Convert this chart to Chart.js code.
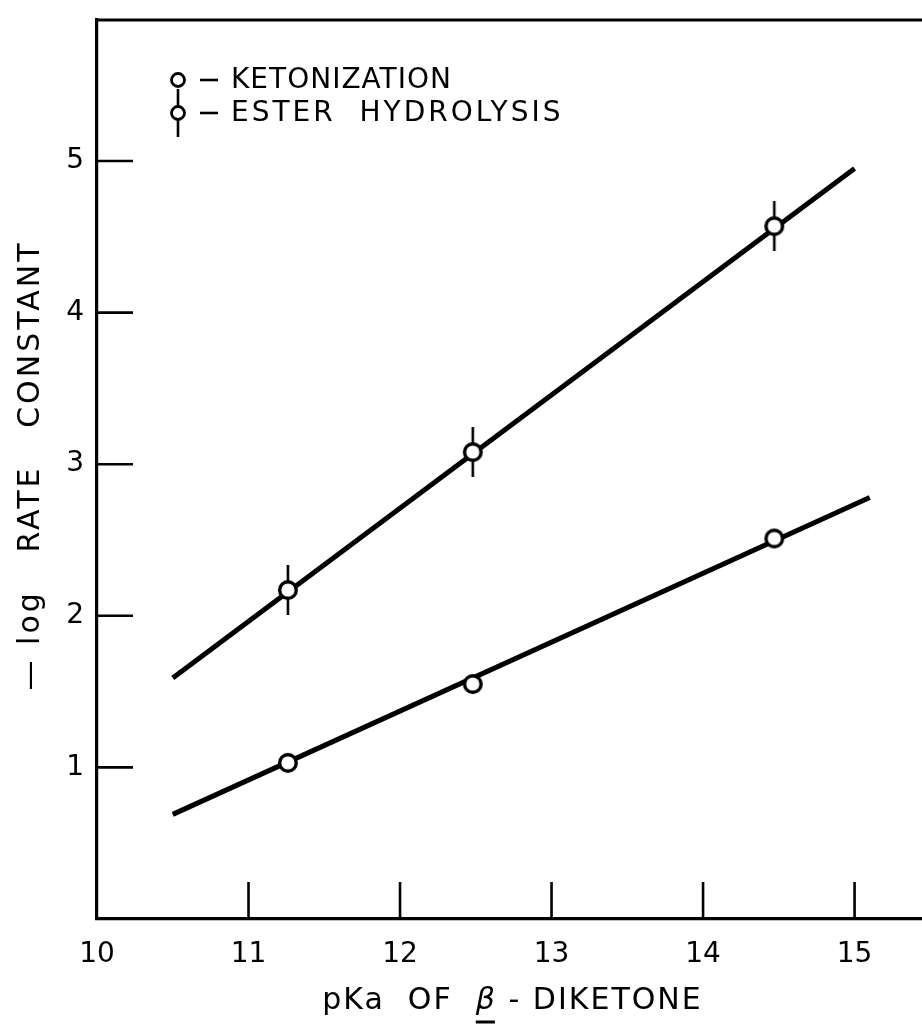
<!DOCTYPE html>
<html>
<head>
<meta charset="utf-8">
<script src="https://cdn.jsdelivr.net/npm/chart.js@4.4.1/dist/chart.umd.min.js"></script>
<style>
  html, body { margin: 0; padding: 0; background: #fff; }
  #wrap { width: 922px; height: 1025px; }
</style>
</head>
<body>
<div id="wrap"><canvas id="c" width="922" height="1025"></canvas></div>
<script>
// pKa of the beta-diketones and the measured -log rate constants
const pKa = [11.26, 12.48, 14.47];
const ketonization = [1.03, 1.55, 2.51];
const esterHydrolysis = [2.17, 3.08, 4.57];

// end points of the two fitted straight lines
const ketoFitX = [10.5, 15.1];
const ketoFitY = [0.69, 2.78];
const esterFitX = [10.5, 15.0];
const esterFitY = [1.59, 4.95];

// axis ticks and texts
const xTicks = [10, 11, 12, 13, 14, 15];
const yTicks = [1, 2, 3, 4, 5];
const legendLabels = ['KETONIZATION', 'ESTER  HYDROLYSIS'];
const xTitleParts = ['pKa  OF  ', 'β', ' - DIKETONE'];
const yTitle = '\u2014 log   RATE   CONSTANT';

const FONT = '"DejaVu Sans", "Liberation Sans", sans-serif';

// open circle marker, optionally crossed by a short vertical bar
function makeMarker(r, lw, barHalf, barWidth) {
  const w = 2 * Math.ceil(r + lw);
  const h = barHalf ? 2 * Math.ceil(barHalf) : w;
  const c = document.createElement('canvas');
  c.width = w; c.height = h;
  const g = c.getContext('2d');
  g.strokeStyle = '#000';
  if (barHalf) {
    g.lineWidth = barWidth;
    g.beginPath(); g.moveTo(w / 2, 0); g.lineTo(w / 2, h); g.stroke();
  }
  g.beginPath();
  g.arc(w / 2, h / 2, r, 0, Math.PI * 2);
  g.fillStyle = '#fff'; g.fill();
  g.lineWidth = lw; g.stroke();
  return c;
}

const ketoMarker = makeMarker(8.3, 3.4, 0, 0);
const esterMarker = makeMarker(8.3, 3.4, 25, 2.6);
const ketoLegendMarker = makeMarker(6.5, 2.8, 0, 0);
const esterLegendMarker = makeMarker(6.5, 2.8, 24, 2.6);

const toPoints = (xs, ys) => xs.map((x, i) => ({ x: x, y: ys[i] }));

// keep the plot frame exactly where the layout padding puts it
const noLabelPadding = s => {
  s.paddingTop = 0; s.paddingBottom = 0; s.paddingLeft = 0; s.paddingRight = 0;
};

// frame, inward ticks, legend and axis titles
const decorations = {
  id: 'decorations',
  afterDraw(chart) {
    const { ctx, chartArea: a, scales: { x, y } } = chart;
    ctx.save();
    ctx.strokeStyle = '#000';
    ctx.fillStyle = '#000';

    // top edge of the frame
    ctx.lineWidth = 3.2;
    ctx.beginPath(); ctx.moveTo(a.left - 1.6, a.top); ctx.lineTo(a.right, a.top); ctx.stroke();

    // inward tick marks
    ctx.lineWidth = 2.6;
    xTicks.forEach(v => {
      if (v === x.min) return;
      const px = x.getPixelForValue(v);
      ctx.beginPath(); ctx.moveTo(px, a.bottom); ctx.lineTo(px, a.bottom - 37); ctx.stroke();
    });
    yTicks.forEach(v => {
      const py = y.getPixelForValue(v);
      ctx.beginPath(); ctx.moveTo(a.left, py); ctx.lineTo(a.left + 36, py); ctx.stroke();
    });

    // legend
    ctx.font = '28px ' + FONT;
    ctx.textBaseline = 'middle';
    ctx.textAlign = 'left';
    const rows = [
      { marker: ketoLegendMarker, y: a.top + 60, spacing: '1px' },
      { marker: esterLegendMarker, y: a.top + 93, spacing: '3px' }
    ];
    rows.forEach((row, i) => {
      const m = row.marker;
      ctx.drawImage(m, 178 - m.width / 2, row.y - m.height / 2);
      ctx.lineWidth = 2.6;
      ctx.beginPath(); ctx.moveTo(200, row.y); ctx.lineTo(218, row.y); ctx.stroke();
      ctx.letterSpacing = row.spacing;
      ctx.fillText(legendLabels[i], 231, row.y + 1);
    });

    // x axis title with underlined beta
    ctx.font = '30px ' + FONT;
    ctx.letterSpacing = '2px';
    const widths = xTitleParts.map(t => ctx.measureText(t).width);
    const total = widths.reduce((s, w) => s + w, 0);
    let cx = (a.left + a.right) / 2 - total / 2 + 3;
    const ty = 1001;
    xTitleParts.forEach((t, i) => {
      if (t === 'β') {
        ctx.font = 'italic 30px ' + FONT;
        ctx.fillText(t, cx, ty);
        ctx.lineWidth = 3;
        ctx.beginPath(); ctx.moveTo(cx, ty + 21); ctx.lineTo(cx + widths[i] - 2, ty + 21); ctx.stroke();
        ctx.font = '30px ' + FONT;
      } else {
        ctx.fillText(t, cx, ty);
      }
      cx += widths[i];
    });

    // y axis title
    ctx.translate(31, (a.top + a.bottom) / 2 - 4);
    ctx.rotate(-Math.PI / 2);
    ctx.textAlign = 'center';
    ctx.font = '30px ' + FONT;
    ctx.letterSpacing = '3px';
    ctx.fillText(yTitle, 0, 0);
    ctx.restore();
  }
};

new Chart(document.getElementById('c'), {
  type: 'scatter',
  data: {
    datasets: [
      { label: 'ester fit', data: toPoints(esterFitX, esterFitY), showLine: true,
        borderColor: '#000', borderWidth: 5, pointRadius: 0, order: 3 },
      { label: 'keto fit', data: toPoints(ketoFitX, ketoFitY), showLine: true,
        borderColor: '#000', borderWidth: 5, pointRadius: 0, order: 3 },
      { label: legendLabels[0], data: toPoints(pKa, ketonization),
        pointStyle: ketoMarker, order: 1 },
      { label: legendLabels[1], data: toPoints(pKa, esterHydrolysis),
        pointStyle: esterMarker, order: 1 }
    ]
  },
  options: {
    responsive: false,
    animation: false,
    devicePixelRatio: 1,
    layout: { autoPadding: false, padding: { top: 20, left: 0, right: 0, bottom: 0 } },
    plugins: { legend: { display: false }, tooltip: { enabled: false } },
    scales: {
      x: {
        type: 'linear', min: 10, max: 15.445,
        afterBuildTicks: s => { s.ticks = xTicks.map(v => ({ value: v })); },
        afterFit: s => { s.height = 106; noLabelPadding(s); },
        grid: { display: false, drawTicks: false },
        border: { display: true, color: '#000', width: 3.2 },
        ticks: { color: '#000', font: { family: FONT, size: 28 }, padding: 19,
                 maxRotation: 0, autoSkip: false, callback: v => String(v) }
      },
      y: {
        type: 'linear', min: 0, max: 5.93,
        afterBuildTicks: s => { s.ticks = yTicks.map(v => ({ value: v })); },
        afterFit: s => { s.width = 97; noLabelPadding(s); },
        grid: { display: false, drawTicks: false },
        border: { display: true, color: '#000', width: 3.2 },
        ticks: { color: '#000', font: { family: FONT, size: 28 }, padding: 13,
                 autoSkip: false, callback: v => String(v) }
      }
    }
  },
  plugins: [decorations]
});
</script>
</body>
</html>
